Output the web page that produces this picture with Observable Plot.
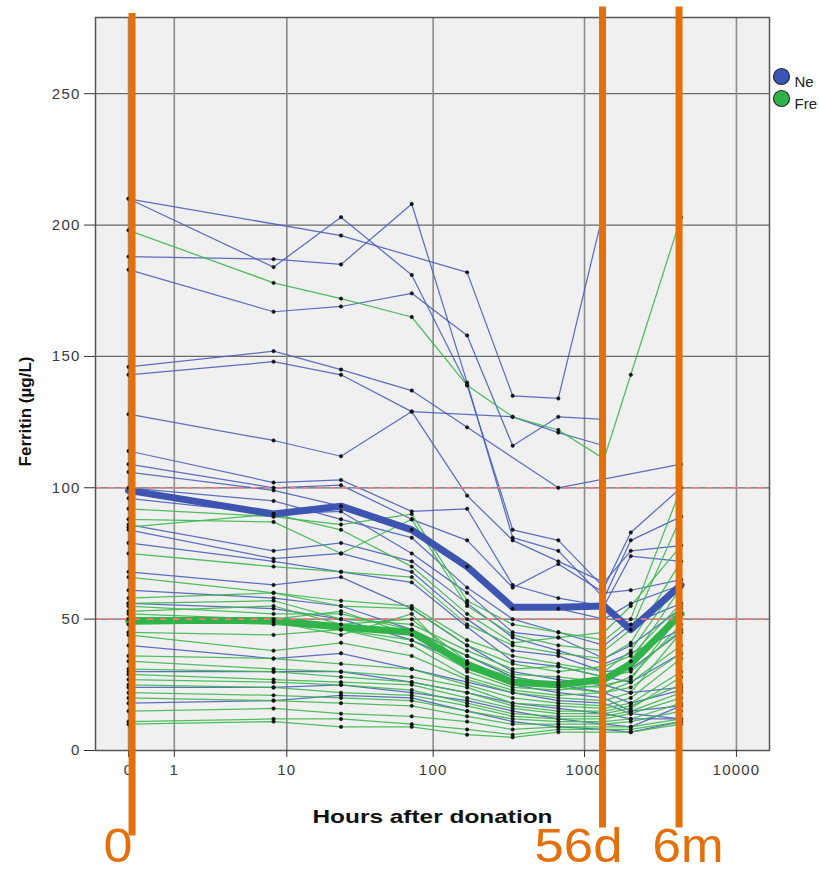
<!DOCTYPE html>
<html><head><meta charset="utf-8">
<script src="https://cdn.jsdelivr.net/npm/d3@7"></script>
<script src="https://cdn.jsdelivr.net/npm/@observablehq/plot@0.6"></script>
<style>html,body{margin:0;padding:0;background:#fff;overflow:hidden;width:819px;height:872px}</style>
</head><body><div id="chart"></div>
<script>
// Sampling times (hours after donation)
const times = [0, 8, 24, 72, 168, 336, 672, 1344, 2016, 4320];

// New donors: ferritin (µg/L) per subject at each time (null = missing)
const newDonors = [
  [210, null, 196, null, 182, 135, 134, 206, null, null],
  [210, 184, 203, 181, 139, 84, 80, 62, 83, 100],
  [188, 187, 185, 208, 140, 81, 76, 58, 80, 89],
  [183, 167, 169, 174, 158, 116, 127, 126, null, null],
  [146, 152, 145, 137, 123, null, 100, null, null, 109],
  [143, 148, 143, 129, 97, 80, 72, 64, 76, 78],
  [128, 118, 112, 129, null, 127, 121, 116, null, null],
  [114, 102, 103, 91, 92, 63, 58, 55, 74, 72],
  [109, 100, 101, 88, 80, 62, 71, 60, 61, 65],
  [106, 99, 93, 84, 70, 54, 54, 50, 56, 63],
  [100, 95, 88, 81, 62, 50, 45, 40, 48, 56],
  [96, 90, 91, 75, 60, 45, 43, 35, 40, 54],
  [86, 76, 79, 72, 56, 43, 38, 33, 37, 46],
  [84, 73, 75, 68, 50, 38, 36, 30, 31, 45],
  [79, 72, 68, 64, 47, 34, 32, 28, 26, 37],
  [68, 63, 66, 54, 40, 30, 27, 25, 22, 24],
  [61, 58, 55, 46, 36, 28, 25, 22, 18, 23],
  [56, 54, 50, 42, 33, 25, 22, 20, 15, 17],
  [40, 35, 37, 31, 26, 22, 19, 18, 14, 12],
  [30, 30, 30, 26, 22, 18, 16, 14, 12, 12],
  [24, 24, 25, 22, 19, 15, 12, 10, 9, 17],
  [18, 19, 21, 20, 15, 11, 9, 8, 7, 11]
];

// Frequent donors
const frequentDonors = [
  [198, 178, 172, 165, 139, 127, 122, 111, 143, 203],
  [92, 89, 86, 90, 57, 48, 45, 42, 50, 100],
  [88, 87, 75, 88, 55, 44, 40, 38, 46, 89],
  [85, 90, 84, 70, 52, 41, 43, 45, 55, 78],
  [75, 70, 68, 66, 48, 40, 37, 35, 41, 72],
  [66, 60, 57, 55, 42, 36, 33, 30, 38, 65],
  [58, 60, 55, 54, 40, 33, 30, 32, 36, 56],
  [56, 57, 50, 48, 38, 31, 32, 28, 34, 62],
  [55, 52, 52, 46, 36, 29, 28, 26, 31, 55],
  [53, 55, 48, 50, 34, 27, 26, 28, 30, 46],
  [52, 50, 53, 44, 33, 28, 25, 24, 28, 48],
  [50, 48, 46, 42, 31, 26, 24, 22, 26, 40],
  [48, 49, 44, 52, 30, 24, 23, 25, 27, 52],
  [45, 44, 46, 40, 28, 23, 21, 22, 24, 37],
  [44, 38, 41, 36, 27, 22, 20, 19, 22, 45],
  [36, 35, 33, 31, 25, 20, 18, 17, 20, 35],
  [34, 31, 30, 28, 24, 18, 17, 16, 18, 30],
  [31, 30, 28, 26, 22, 17, 15, 15, 17, 25],
  [29, 27, 26, 25, 20, 16, 14, 14, 16, 28],
  [27, 26, 25, 23, 18, 14, 13, 13, 15, 22],
  [25, 24, 22, 21, 17, 13, 12, 12, 14, 20],
  [22, 21, 20, 19, 15, 12, 11, 11, 12, 18],
  [20, 19, 18, 17, 13, 10, 10, 10, 11, 15],
  [15, 16, 14, 13, 11, 8, 9, 9, 9, 12],
  [11, 12, 12, 10, 8, 6, 8, 8, 8, 11],
  [10, 11, 9, 9, 6, 5, 7, 7, 7, 10]
];

// Group mean lines
const newMean = [99, 90, 93, 84, 70, 54.5, 54.5, 55, 46, 63];
const freqMean = [49.5, 49.5, 47, 45, 32.5, 26, 25, 27, 33, 52];

const xTicks = [0, 1, 10, 100, 1000, 10000];
const yTicks = [0, 50, 100, 150, 200, 250];
const xGrid = [0, 1, 10, 100, 1000, 10000];
const yGrid = [50, 100, 150, 200, 250];
const refLines = [50, 100];
const markerTimes = [0, 1344, 4320];
const markerLabels = ["0", "56d", "6m"];
// legend labels as visible in the reference (cut off by the image edge)
const legendLabels = ["Ne", "Fre"];

const BLUE = "#4a60bb", GREEN = "#3cb84c", BLUE_M = "#3d55b1", GREEN_M = "#30b449";
const ORANGE = "#e4700c";

function toRows(arr, group) {
  const rows = [];
  arr.forEach((vals, i) => vals.forEach((v, j) => {
    if (v != null) rows.push({id: group + i, group, t: times[j], v});
  }));
  return rows;
}
const newRows = toRows(newDonors, "new");
const freqRows = toRows(frequentDonors, "freq");
const meanNew = times.map((t, i) => ({t, v: newMean[i]}));
const meanFreq = times.map((t, i) => ({t, v: freqMean[i]}));

const LABEL_Y = -42.3;

const chart = Plot.plot({
  width: 819, height: 872,
  marginLeft: 95, marginRight: 50, marginTop: 17, marginBottom: 122,
  style: {fontFamily: "'Liberation Sans', Arial, sans-serif", fontSize: "15px", background: "#fff", overflow: "visible"},
  x: {type: "symlog", constant: 1, domain: [-0.65, 16500]},
  y: {domain: [0, 279]},
  marks: [
    Plot.frame({fill: "#f0f0f0"}),
    Plot.ruleY(yGrid, {stroke: "#6a6a6a", strokeWidth: 1.3}),
    Plot.ruleX(xGrid, {stroke: "#8c8c8c", strokeWidth: 1.6}),
    Plot.line(newRows, {x: "t", y: "v", z: "id", stroke: BLUE, strokeWidth: 1.25, strokeOpacity: 0.9}),
    Plot.line(freqRows, {x: "t", y: "v", z: "id", stroke: GREEN, strokeWidth: 1.25, strokeOpacity: 0.9}),
    Plot.line(meanFreq, {x: "t", y: "v", stroke: GREEN_M, strokeWidth: 7, strokeLinejoin: "round"}),
    Plot.line(meanNew, {x: "t", y: "v", stroke: BLUE_M, strokeWidth: 7, strokeLinejoin: "round"}),
    Plot.ruleY(refLines, {stroke: "#f27a7a", strokeWidth: 1.6, strokeDasharray: "6,7"}),
    Plot.dot(newRows.concat(freqRows), {x: "t", y: "v", r: 1.7, fill: "#111", stroke: "#111", strokeWidth: 0.6}),
    Plot.frame({stroke: "#555", strokeWidth: 1.5}),
    Plot.axisY({ticks: yTicks, tickSize: 11, tickPadding: 4, label: null, stroke: "#333", color: "#3a3a3a"}),
    Plot.axisX({ticks: xTicks, tickSize: 7, tickPadding: 7, label: null, tickFormat: d => String(d), stroke: "#333", color: "#3a3a3a"}),
    Plot.text(["Ferritin (µg/L)"], {frameAnchor: "left", rotate: -90, textAnchor: "middle", dx: -70, dy: 27.5, fontWeight: "bold", fontSize: 17, fill: "#111"}),
    Plot.text(["Hours after donation"], {frameAnchor: "bottom", lineAnchor: "bottom", dy: 72, fontWeight: "bold", fontSize: 19, fill: "#111", className: "xtitle"}),
    // orange annotation lines
    Plot.ruleX([markerTimes[0]], {y1: -32.5, y2: 280.5, stroke: ORANGE, strokeWidth: 7, dx: 3.5}),
    Plot.ruleX([markerTimes[1]], {y1: -29.5, y2: 283, stroke: ORANGE, strokeWidth: 7, dx: -1.5}),
    Plot.ruleX([markerTimes[2]], {y1: -29.5, y2: 283, stroke: ORANGE, strokeWidth: 7, dx: -2}),
    Plot.text([markerLabels[0]], {x: markerTimes[0], y: LABEL_Y, lineAnchor: "bottom", dx: -10.5, fontSize: 48, fill: ORANGE, className: "olab0"}),
    Plot.text([markerLabels[1]], {x: markerTimes[1], y: LABEL_Y, lineAnchor: "bottom", dx: -25.5, fontSize: 48, fill: ORANGE, className: "olab1"}),
    Plot.text([markerLabels[2]], {x: markerTimes[2], y: LABEL_Y, lineAnchor: "bottom", dx: 7, fontSize: 48, fill: ORANGE, className: "olab2"}),
    // legend
    Plot.dot([legendLabels[0]], {frameAnchor: "top-right", dx: 12, dy: 59, r: 8, fill: "#3a55b5", stroke: "#2a2a2a", strokeWidth: 1.2}),
    Plot.dot([legendLabels[1]], {frameAnchor: "top-right", dx: 12, dy: 81, r: 8, fill: "#2eb34b", stroke: "#2a2a2a", strokeWidth: 1.2}),
    Plot.text([legendLabels[0]], {frameAnchor: "top-right", text: d => d, dx: 25, dy: 59, textAnchor: "start", fontSize: 15, fill: "#222"}),
    Plot.text([legendLabels[1]], {frameAnchor: "top-right", text: d => d, dx: 25, dy: 81, textAnchor: "start", fontSize: 15, fill: "#222"})
  ]
});
document.getElementById("chart").appendChild(chart);

// tick label size and spacing (reference glyphs are wide)
d3.select(chart).selectAll("g[aria-label='y-axis tick label'] text, g[aria-label='x-axis tick label'] text")
  .style("font-size", "15px").style("letter-spacing", "1.2px");

// stretch a few texts horizontally to match the reference's widths
function stretch(cls, len) {
  d3.select(chart).selectAll("g." + cls + " text")
    .attr("textLength", len).attr("lengthAdjust", "spacingAndGlyphs");
}
stretch("xtitle", 240);
stretch("olab0", 29);
stretch("olab1", 88);
stretch("olab2", 71);
</script></body></html>
